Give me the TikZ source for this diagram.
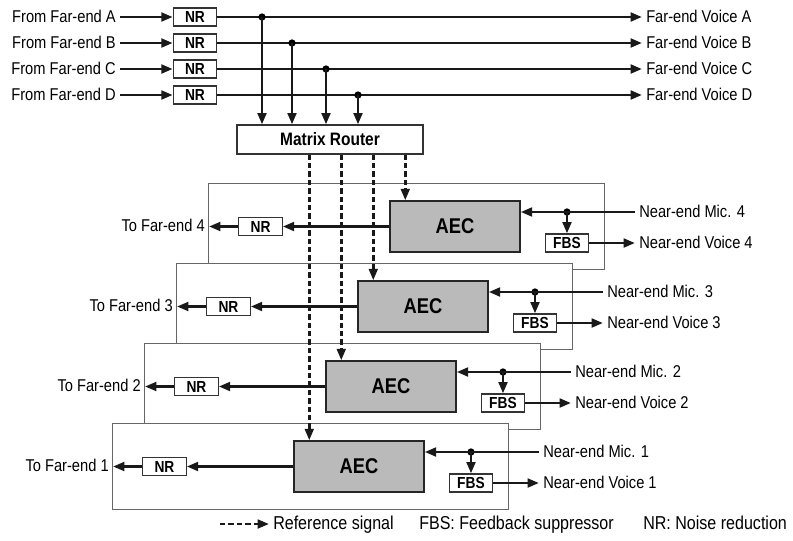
\documentclass[tikz,border=0pt]{standalone}
\usepackage{fontspec}
\setmainfont{Liberation Sans}[FakeStretch=0.86]
\usetikzlibrary{arrows.meta}
\begin{document}
\begin{tikzpicture}[x=0.75pt,y=-0.75pt,
  line/.style={line width=2pt, draw=black!90},
  arr/.style={line, -{Triangle[length=8.5pt,width=6.5pt]}},
  refline/.style={line width=1.9pt, draw=black!90, dash pattern=on 4pt off 2.3pt, -{Triangle[length=8.5pt,width=6.5pt]}},
  smallbox/.style={draw=black!80, line width=0.9pt, fill=white, minimum width=32.5pt, minimum height=13.5pt, inner sep=0pt, font=\bfseries\fontsize{12}{13}\selectfont},
  aecbox/.style={draw=black!85, line width=1.1pt, fill=black!27, minimum width=97.5pt, minimum height=38.25pt, inner sep=0pt, font=\bfseries\fontsize{16}{18}\selectfont},
  routerbox/.style={draw=black!80, line width=0.9pt, fill=white, minimum width=139.5pt, minimum height=21.75pt, inner sep=0pt, font=\bfseries\fontsize{13.5}{15}\selectfont},
  panel/.style={draw=black!60, line width=0.7pt, fill=white, minimum width=297pt, minimum height=64.5pt, inner sep=0pt},
  lbl/.style={font=\fontsize{12.8}{15}\selectfont, inner sep=3pt, text height=1.6ex, text depth=0.15ex},
  leg/.style={font=\fontsize{14}{16}\selectfont, inner sep=3pt, text height=1.6ex, text depth=0.15ex},
  jdot/.style={circle, fill=black, inner sep=0pt, minimum size=5.5pt}]
\useasboundingbox (0,0) rectangle (793,540);

% Matrix router
\node[routerbox] (router) at (330,139.5) {Matrix Router};

% Far-end inputs
\foreach \r/\y/\jx in {A/17/262, B/43/292, C/69/326, D/95/358}{
  \node[lbl, anchor=east] (from\r) at (120,\y) {From Far-end \r};
  \node[smallbox] (tnr\r) at (195,\y) {NR};
  \node[lbl, anchor=west] (fv\r) at (642,\y) {Far-end Voice \r};
  \draw[arr] (from\r.east) -- (tnr\r.west);
  \draw[arr] (tnr\r.east) -- (fv\r.west);
  \node[jdot] (tj\r) at (\jx,\y) {};
  \draw[arr] (tj\r.center) -- (tj\r.center |- router.north);
}

% Panels
\foreach \k/\i in {4/0,3/1,2/2,1/3}{
  \begin{scope}[shift={(-32*\i,80*\i)}]
    \node[panel] (p\k) at (406,226) {};
    \node[aecbox] (aec\k) at (455,226.5) {AEC};
    \node[smallbox] (nr\k) at (260.5,226.5) {NR};
    \node[lbl, anchor=east] (to\k) at (209,226.5) {To Far-end \k};
    \node[smallbox] (fbs\k) at (567,243) {FBS};
    \node[lbl, anchor=west] (micl\k) at (635,212) {Near-end Mic. \k};
    \node[lbl, anchor=west] (voice\k) at (635,243) {Near-end Voice \k};
    \node[jdot] (j\k) at (567,212) {};
    \draw[arr] (micl\k.west) -- (micl\k.west -| aec\k.east);
    \draw[arr] (j\k.center) -- (fbs\k.north);
    \draw[arr] (fbs\k.east) -- (voice\k.west);
    \draw[arr] (aec\k.west) -- (nr\k.east);
    \draw[arr] (nr\k.west) -- (to\k.east);
  \end{scope}
}

% Reference signals
\foreach \k in {4,3,2,1}{
  \path (aec\k.north west) ++(16,0) coordinate (rx\k);
  \draw[refline] (rx\k |- router.south) -- (rx\k);
}

% Legend
\coordinate (lg) at (220,524);
\node[leg, anchor=west] (lgref) at (269,524) {Reference signal};
\node[leg, anchor=west] (lgfbs) at (415,524) {FBS: Feedback suppressor};
\node[leg, anchor=west] (lgnr) at (639,524) {NR: Noise reduction};
\draw[refline] (lg) -- (lgref.west);
\end{tikzpicture}
\end{document}
